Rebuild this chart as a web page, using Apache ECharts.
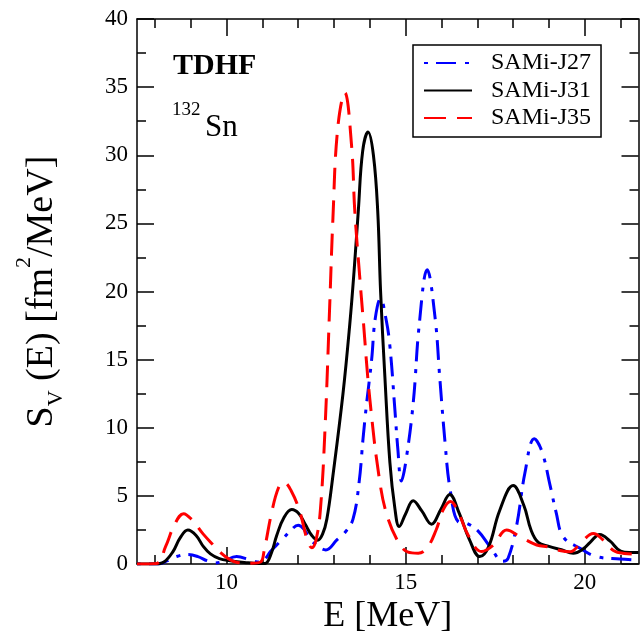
<!DOCTYPE html>
<html>
<head>
<meta charset="utf-8">
<script src="https://cdn.jsdelivr.net/npm/echarts@6/dist/echarts.min.js"></script>
<style>
  html, body { margin: 0; padding: 0; background: #fff; }
  #chart { width: 644px; height: 640px; }
</style>
</head>
<body>
<div id="chart"></div>
<script>
// Isovector strength functions S_V(E) of 132Sn from TDHF, three SAMi-J interactions

const seriesNames = ['SAMi-J27', 'SAMi-J31', 'SAMi-J35'];

// SAMi-J27
const j27E = [7.5, 8.1, 8.35, 8.6, 8.9, 9.2, 9.45, 9.65, 9.9, 10.28, 10.66, 10.9, 11.05, 11.22, 11.4, 11.59,
  11.8, 12.0, 12.15, 12.32, 12.55, 12.77, 13.08, 13.3, 13.53, 13.7, 13.81, 13.91, 14.05, 14.15, 14.3, 14.45,
  14.56, 14.7, 14.78, 14.88, 15.0, 15.21, 15.38, 15.6, 15.82, 15.95, 16.1, 16.24, 16.47, 16.7, 17.03, 17.35,
  17.72, 17.86, 18.1, 18.33, 18.59, 18.8, 19.03, 19.2, 19.4, 19.87, 20.33, 20.98, 21.5];
const j27S = [0, 0, 0.25, 0.55, 0.7, 0.55, 0.25, 0.08, 0.2, 0.55, 0.3, 0.15, 0.3, 0.9, 1.4, 1.9,
  2.5, 2.86, 2.6, 1.9, 1.3, 1.04, 1.77, 2.3, 3.3, 6.0, 9.2, 11.8, 15.0, 18.0, 19.5, 18.0,
  16.0, 11.3, 8.5, 6.1, 7.45, 11.8, 17.6, 21.6, 18.1, 13.75, 8.9, 5.5, 3.1, 3.0, 2.4, 1.3,
  0.2, 0.43, 2.86, 6.7, 9.2, 8.3, 5.8, 3.8, 2.0, 1.16, 0.55, 0.38, 0.3];

// SAMi-J31
const j31E = [7.5, 8.0, 8.25, 8.5, 8.7, 8.92, 9.15, 9.35, 9.55, 9.8, 10.1, 10.5, 10.9, 11.08, 11.25, 11.4,
  11.6, 11.82, 12.02, 12.2, 12.38, 12.54, 12.68, 12.8, 12.97, 13.25, 13.44, 13.56, 13.68, 13.8, 13.95, 14.1,
  14.22, 14.3, 14.42, 14.56, 14.7, 14.82, 15.0, 15.21, 15.45, 15.72, 15.98, 16.23, 16.5, 16.78, 17.07, 17.32,
  17.62, 18.0, 18.3, 18.5, 18.7, 19.0, 19.35, 19.68, 19.95, 20.15, 20.42, 20.7, 21.0, 21.25, 21.5];
const j31S = [0, 0, 0.15, 0.9, 1.9, 2.5, 2.1, 1.3, 0.75, 0.4, 0.25, 0.12, 0.04, 0.05, 0.8, 2.1,
  3.4, 4.0, 3.7, 2.9, 2.1, 1.75, 2.2, 3.3, 6.5, 12.5, 17.6, 21.5, 26.0, 30.3, 31.7, 30.0,
  25.9, 20.0, 13.75, 7.45, 4.07, 2.75, 3.7, 4.65, 3.9, 2.93, 4.0, 5.1, 3.7, 1.8, 0.55, 1.3,
  3.9, 5.76, 4.3, 2.5, 1.6, 1.3, 1.05, 0.8, 1.1, 1.6, 2.18, 1.7, 0.95, 0.85, 0.85];

// SAMi-J35
const j35E = [7.5, 8.05, 8.3, 8.55, 8.8, 9.05, 9.35, 9.63, 9.85, 10.05, 10.3, 10.7, 10.95, 11.05, 11.26, 11.45,
  11.6, 11.8, 12.05, 12.25, 12.38, 12.5, 12.62, 12.75, 12.88, 12.97, 13.1, 13.3, 13.49, 13.58, 13.72, 13.81,
  14.0, 14.28, 14.5, 14.8, 15.05, 15.35, 15.6, 15.85, 16.05, 16.25, 16.5, 16.75, 17.12, 17.45, 17.82, 18.2,
  18.66, 19.0, 19.3, 19.59, 19.9, 20.24, 20.5, 20.8, 21.1, 21.5];
const j35S = [0, 0.05, 1.3, 2.9, 3.7, 3.2, 2.2, 1.4, 0.8, 0.4, 0.12, 0.06, 0.15, 1.0, 3.8, 5.6,
  6.0, 5.4, 3.8, 1.8, 1.2, 1.8, 4.0, 10.0, 19.0, 25.4, 31.9, 34.6, 30.7, 25.9, 21.0, 18.1,
  12.1, 6.0, 3.4, 1.6, 0.9, 0.8, 1.2, 2.5, 4.0, 4.6, 3.6, 2.1, 0.92, 1.4, 2.5, 2.0,
  1.4, 1.25, 1.0, 0.9, 1.6, 2.25, 1.8, 1.0, 0.78, 0.73];

// Axis ranges and ticks
const xRange = [7.5, 21.5];
const xMajorTicks = [10, 15, 20];
const xMinorTicks = [8, 9, 11, 12, 13, 14, 16, 17, 18, 19, 21];
const yRange = [0, 40];
const yStep = 5;

const serif = '"Liberation Serif", "DejaVu Serif", serif';
const zip = (xs, ys) => xs.map((x, i) => [x, ys[i]]);

const axisLineStyle = { color: '#000', width: 1.5 };
const tickLineStyle = { color: '#000', width: 1.5 };

function xAxisDef(position, ticks, len, withLabels, withLine) {
  const ax = {
    type: 'value', position: position, min: xRange[0], max: xRange[1],
    axisLine: { show: withLine, onZero: false, lineStyle: axisLineStyle },
    axisTick: { show: true, inside: true, length: len, customValues: ticks, lineStyle: tickLineStyle },
    axisLabel: { show: false },
    splitLine: { show: false }
  };
  if (withLabels) {
    ax.axisLabel = { show: true, customValues: xMajorTicks, margin: 7, color: '#000',
      fontFamily: serif, fontSize: 23 };
    ax.name = 'E [MeV]';
    ax.nameLocation = 'middle';
    ax.nameGap = 33;
    ax.nameTextStyle = { fontFamily: serif, fontSize: 36, color: '#000' };
  }
  return ax;
}

function yAxisDef(position, withLabels) {
  const ax = {
    type: 'value', position: position, min: yRange[0], max: yRange[1], interval: yStep,
    axisLine: { show: true, onZero: false, lineStyle: axisLineStyle },
    axisTick: { show: true, inside: true, length: 17, lineStyle: tickLineStyle },
    minorTick: { show: true, splitNumber: 2, length: 9, lineStyle: tickLineStyle },
    axisLabel: { show: withLabels, margin: 9, color: '#000', fontFamily: serif, fontSize: 23 },
    splitLine: { show: false }
  };
  if (withLabels) {
    ax.name = '{s|S}{sub|V}{t| (E) [fm}{sup|2}{t|/MeV]}';
    ax.nameLocation = 'middle';
    ax.nameGap = 86;
    ax.nameTextStyle = {
      color: '#000', fontFamily: serif,
      rich: {
        s: { fontFamily: serif, fontSize: 38, lineHeight: 38, color: '#000', verticalAlign: 'top', padding: [10, 0, 0, 0] },
        t: { fontFamily: serif, fontSize: 38, lineHeight: 38, color: '#000', verticalAlign: 'top', padding: [10, 0, 0, 0] },
        sub: { fontFamily: serif, fontSize: 22, lineHeight: 22, color: '#000', verticalAlign: 'top', padding: [32, 0, 0, 0] },
        sup: { fontFamily: serif, fontSize: 22, lineHeight: 22, color: '#000', verticalAlign: 'top', padding: [0, 0, 0, 0] }
      }
    };
  }
  return ax;
}

const lineDefs = [
  { name: seriesNames[0], data: zip(j27E, j27S), color: '#0000ff', type: [4, 8, 20, 9] },
  { name: seriesNames[1], data: zip(j31E, j31S), color: '#000000', type: 'solid' },
  { name: seriesNames[2], data: zip(j35E, j35S), color: '#ff0000', type: [22, 11] }
];

const chart = echarts.init(document.getElementById('chart'), null, { renderer: 'canvas' });
chart.setOption({
  animation: false,
  backgroundColor: '#fff',
  grid: { left: 137, right: 5.5, top: 19, bottom: 70.5, containLabel: false },
  xAxis: [
    xAxisDef('bottom', xMajorTicks, 17, true, true),
    xAxisDef('bottom', xMinorTicks, 9, false, false),
    xAxisDef('top', xMajorTicks, 17, false, true),
    xAxisDef('top', xMinorTicks, 9, false, false)
  ],
  yAxis: [yAxisDef('left', true), yAxisDef('right', false)],
  legend: {
    orient: 'vertical', left: 413, top: 45,
    padding: [6, 10, 7, 10], itemGap: 3.5, itemWidth: 48, itemHeight: 14,
    borderColor: '#000', borderWidth: 1.5, borderRadius: 0,
    itemStyle: { color: 'transparent', borderWidth: 0, opacity: 0 },
    textStyle: { fontFamily: serif, fontSize: 24, lineHeight: 24, color: '#000', padding: [0, 0, 0, 14] },
    data: seriesNames
  },
  graphic: [
    { type: 'text', silent: true, style: { x: 173, y: 66, text: 'TDHF', fill: '#000',
      font: 'bold 30px ' + serif, align: 'left', verticalAlign: 'middle' } },
    { type: 'text', silent: true, style: { x: 172, y: 110.5, text: '132', fill: '#000',
      font: '19px ' + serif, align: 'left', verticalAlign: 'middle' } },
    { type: 'text', silent: true, style: { x: 205, y: 127.5, text: 'Sn', fill: '#000',
      font: '31px ' + serif, align: 'left', verticalAlign: 'middle' } }
  ],
  series: lineDefs.map(d => ({
    name: d.name, type: 'line', xAxisIndex: 0, yAxisIndex: 0,
    data: d.data, symbol: 'none', smooth: 0.4, clip: true,
    lineStyle: { color: d.color, width: 3, type: d.type },
    itemStyle: { color: d.color }
  }))
});
</script>
</body>
</html>
